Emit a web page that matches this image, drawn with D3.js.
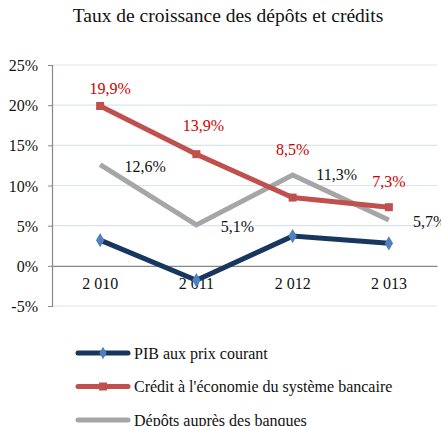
<!DOCTYPE html>
<html><head><meta charset="utf-8">
<script src="https://cdn.jsdelivr.net/npm/d3@7"></script>
<style>body{margin:0;background:#fff}</style>
</head><body><svg id="c" width="441" height="426"></svg>
<script>
const years = ["2 010","2 011","2 012","2 013"];
const pib = [3.2, -1.8, 3.7, 2.8];
const credit = [19.9, 13.9, 8.5, 7.3];
const depots = [12.6, 5.1, 11.3, 5.7];
const creditLabels = ["19,9%","13,9%","8,5%","7,3%"];
const depotsLabels = ["12,6%","5,1%","11,3%","5,7%"];
const yTicks = [-5,0,5,10,15,20,25];
const seriesNames = ["PIB aux prix courant","Crédit à l'économie du système bancaire","Dépôts auprès des banques"];

const FONT = "Liberation Serif, Times New Roman, serif";
const FS = 16;
const svg = d3.select("#c");
const x = d3.scaleBand().domain(years).range([52,437]);
const y = d3.scaleLinear().domain([-5,25]).range([306,65]);
const cx = d => x(d)+x.bandwidth()/2;

svg.append("text").attr("x",228).attr("y",22).attr("text-anchor","middle").attr("font-size",19.5).attr("fill","#111").attr("font-family",FONT).text("Taux de croissance des dépôts et crédits");

// grid
svg.append("g").selectAll("line").data(yTicks.filter(t=>t!==0)).join("line")
  .attr("x1",52).attr("x2",437).attr("y1",d=>y(d)).attr("y2",d=>y(d))
  .attr("stroke","#dbe5f1").attr("stroke-width",1.2);
// y axis
const ya = svg.append("g").attr("transform","translate(52,0)").call(d3.axisLeft(y).tickValues(yTicks).tickFormat(d=>d+"%").tickSize(4));
ya.attr("font-family",FONT).attr("font-size",FS);
ya.select(".domain").attr("stroke","#888").attr("stroke-width",1.2);
ya.selectAll(".tick line").attr("stroke","#888");
ya.selectAll("text").attr("fill","#111").attr("x",-14).attr("dy","0.35em");
// x axis at 0
const xa = svg.append("g").attr("transform",`translate(0,${y(0)})`).call(d3.axisBottom(x).tickSize(0));
xa.attr("font-family",FONT).attr("font-size",FS);
xa.select(".domain").attr("stroke","#888").attr("stroke-width",1.2);
xa.selectAll("text").attr("fill","#111").attr("dy","1.25em");

const line = d3.line().x((d,i)=>cx(years[i])).y(d=>y(d));
svg.append("path").datum(depots).attr("d",line).attr("fill","none").attr("stroke","#a6a6a6").attr("stroke-width",5);
svg.append("path").datum(credit).attr("d",line).attr("fill","none").attr("stroke","#c0504d").attr("stroke-width",5);
svg.append("path").datum(pib).attr("d",line).attr("fill","none").attr("stroke","#17375e").attr("stroke-width",5);

svg.append("g").selectAll("rect").data(credit).join("rect")
  .attr("x",(d,i)=>cx(years[i])-4).attr("y",d=>y(d)-4).attr("width",8).attr("height",8).attr("fill","#c0504d");
svg.append("g").selectAll("path").data(pib).join("path")
  .attr("d",d3.symbol(d3.symbolDiamond,60))
  .attr("transform",(d,i)=>`translate(${cx(years[i])},${y(d)})`).attr("fill","#4f81bd");

// labels
const cOff = [[10,-12],[7,-23],[0,-43],[0,-20]];
svg.append("g").selectAll("text").data(credit).join("text")
  .attr("x",(d,i)=>cx(years[i])+cOff[i][0]).attr("y",(d,i)=>y(d)+cOff[i][1])
  .attr("text-anchor","middle").attr("font-size",FS).attr("fill","#d00000").attr("font-family",FONT).text((d,i)=>creditLabels[i]);
const dOff = [[45,7,"middle"],[41,7,"middle"],[44,5,"middle"],[24,7,"start"]];
svg.append("g").selectAll("text").data(depots).join("text")
  .attr("x",(d,i)=>cx(years[i])+dOff[i][0]).attr("y",(d,i)=>y(d)+dOff[i][1])
  .attr("text-anchor",(d,i)=>dOff[i][2]).attr("font-size",FS).attr("fill","#111").attr("font-family",FONT).text((d,i)=>depotsLabels[i]);

// legend
const legColors = ["#17375e","#c0504d","#a6a6a6"];
const lg = svg.append("g");
seriesNames.forEach((n,i)=>{
  const yy = 353 + i*33.5;
  lg.append("line").attr("x1",78).attr("x2",128).attr("y1",yy).attr("y2",yy).attr("stroke",legColors[i]).attr("stroke-width",5).attr("stroke-linecap","round");
  if(i===0) lg.append("path").attr("d",d3.symbol(d3.symbolDiamond,45)).attr("transform",`translate(103,${yy})`).attr("fill","#4f81bd");
  if(i===1) lg.append("rect").attr("x",99).attr("y",yy-4).attr("width",8).attr("height",8).attr("fill","#c0504d");
  lg.append("text").attr("x",134).attr("y",yy+5.5).attr("font-size",FS).attr("fill","#111").attr("font-family",FONT).text(n);
});
</script></body></html>
